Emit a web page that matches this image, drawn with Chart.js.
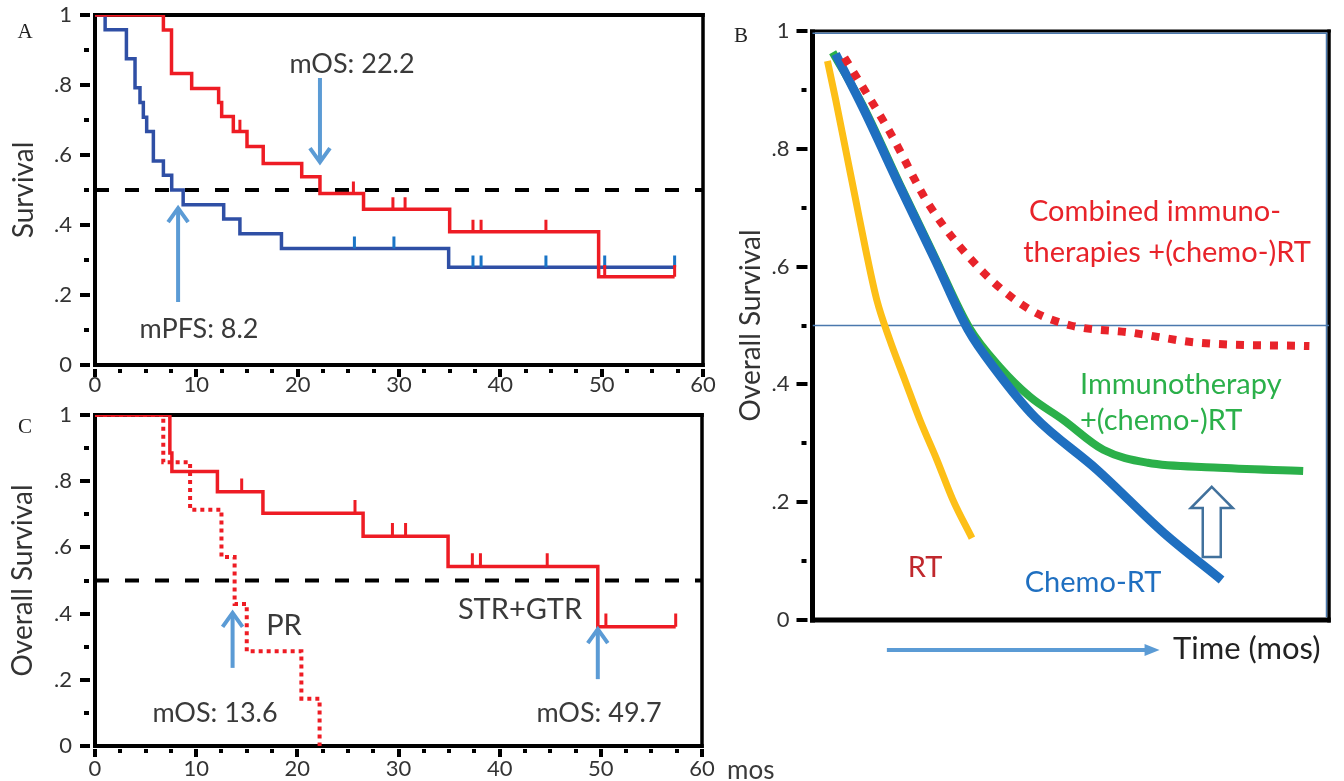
<!DOCTYPE html>
<html><head><meta charset="utf-8">
<script src="https://cdn.jsdelivr.net/npm/chart.js@4.4.0/dist/chart.umd.min.js"></script>
<style>
body{margin:0;background:#fff;width:1344px;height:781px;overflow:hidden;position:relative;font-family:Lato,sans-serif}
canvas{position:absolute}
.t{position:absolute;white-space:nowrap;line-height:1;color:#3a3a3a;font-family:Lato,sans-serif;font-size:27px}
.c{transform:translate(-50%,-50%)}
.l{transform:translate(0,-50%)}
.p{font-family:"Liberation Serif",serif;font-size:21px;color:#222}
</style></head><body>
<canvas id="cA" width="720" height="400" style="left:0;top:0"></canvas>
<canvas id="cC" width="720" height="381" style="left:0;top:400px"></canvas>
<canvas id="cB" width="614" height="781" style="left:730px;top:0"></canvas>

<div class="t p c" style="left:25px;top:31px">A</div>
<div class="t p c" style="left:25px;top:426px">C</div>
<div class="t p c" style="left:741px;top:35px">B</div>

<div class="t c" style="left:352px;top:62px">mOS: 22.2</div>
<div class="t c" style="left:199px;top:327px">mPFS: 8.2</div>

<div class="t c" style="left:284px;top:623px;font-size:29px">PR</div>
<div class="t c" style="left:215px;top:711px">mOS: 13.6</div>
<div class="t c" style="left:520px;top:607px;font-size:29px">STR+GTR</div>
<div class="t c" style="left:599px;top:711px">mOS: 49.7</div>
<div class="t l" style="left:727px;top:769px;font-size:26px">mos</div>

<div class="t c" style="left:1155px;top:209px;font-size:29px;color:#e8232a">Combined immuno-</div>
<div class="t c" style="left:1167px;top:250px;font-size:29px;color:#e8232a">therapies +(chemo-)RT</div>
<div class="t l" style="left:1080px;top:382px;font-size:29px;color:#2bb04a">Immunotherapy</div>
<div class="t l" style="left:1080px;top:418px;font-size:29px;color:#2bb04a">+(chemo-)RT</div>
<div class="t c" style="left:925px;top:565px;font-size:29px;color:#c0282d">RT</div>
<div class="t c" style="left:1093px;top:580px;font-size:29px;color:#1f6fc0">Chemo-RT</div>
<div class="t l" style="left:1173px;top:647px;font-size:31px;color:#222">Time (mos)</div>

<script>
// ---------- Panel A: Kaplan-Meier (OS red, PFS blue) ----------
const osTimeA  = [0, 6.75, 7.55, 9.54, 12.2, 12.5, 13.65, 15.0, 16.6, 20.4, 22.2, 26.5, 35.0, 49.7, 57.2];
const osSurvA  = [1, 0.957, 0.833, 0.79, 0.75, 0.71, 0.667, 0.624, 0.576, 0.538, 0.49, 0.445, 0.381, 0.252, 0.252];
const pfsTimeA = [0, 1.0, 3.1, 3.95, 4.44, 4.77, 5.1, 5.76, 6.75, 7.57, 8.7, 12.7, 14.3, 18.4, 34.9, 57.2];
const pfsSurvA = [1, 0.958, 0.875, 0.792, 0.75, 0.708, 0.667, 0.583, 0.542, 0.5, 0.458, 0.417, 0.375, 0.333, 0.279, 0.279];
const osCensorTimeA  = [14.3, 25.5, 29.4, 30.6, 37.3, 38.1, 44.5, 50.3, 57.2];
const osCensorSurvA  = [0.667, 0.49, 0.445, 0.445, 0.381, 0.381, 0.381, 0.252, 0.252];
const pfsCensorTimeA = [25.6, 29.5, 37.3, 38.1, 44.5, 50.3, 57.2];
const pfsCensorSurvA = [0.333, 0.333, 0.279, 0.279, 0.279, 0.279, 0.279];

// ---------- Panel C: OS by resection (STR+GTR solid, PR dotted) ----------
const strTimeC = [0, 7.4, 7.6, 12.1, 16.6, 26.5, 34.9, 49.7, 57.4];
const strSurvC = [1, 0.885, 0.829, 0.768, 0.703, 0.634, 0.542, 0.36, 0.36];
const strCensorTimeC = [14.5, 25.7, 29.4, 30.7, 37.3, 38.1, 44.7, 50.5, 57.4];
const strCensorSurvC = [0.768, 0.703, 0.634, 0.634, 0.542, 0.542, 0.542, 0.36, 0.36];
const prTimeC = [0, 6.75, 9.4, 12.5, 13.8, 15.0, 20.4, 22.2];
const prSurvC = [1, 0.857, 0.714, 0.571, 0.429, 0.286, 0.143, 0];

// ---------- Panel B: schematic overall survival curves ----------
const rtX    = [2.9, 4.47, 6.41, 8.35, 10.29, 12.43, 14.95, 17.86, 20.78, 24.08, 27.18, 30.87];
const rtY    = [0.949, 0.884, 0.799, 0.714, 0.629, 0.544, 0.476, 0.408, 0.340, 0.272, 0.204, 0.139];
const chemoX = [4.47, 9.9, 16.9, 23.7, 30.1, 35.7, 43.1, 55.1, 68.0, 79.2];
const chemoY = [0.961, 0.867, 0.736, 0.612, 0.493, 0.422, 0.344, 0.255, 0.148, 0.068];
const immunoX = [3.9, 9.9, 16.9, 23.7, 30.3, 36.3, 42.1, 48.5, 56.3, 64.9, 77.7, 95.0];
const immunoY = [0.964, 0.871, 0.740, 0.616, 0.497, 0.429, 0.379, 0.340, 0.289, 0.267, 0.259, 0.253];
const comboX = [6.2, 15.0, 22.7, 33.1, 42.1, 50.0, 61.6, 74.5, 96.2];
const comboY = [0.955, 0.828, 0.703, 0.59, 0.527, 0.50, 0.488, 0.471, 0.465];

// ---------- tick labels ----------
const survTickLabels = ['0', '.2', '.4', '.6', '.8', '1'];
const monthTickLabels = ['0', '10', '20', '30', '40', '50', '60'];
const medianLevel = 0.5;

const pts = (xs, ys) => xs.map((x, i) => ({x: x, y: ys[i]}));

function kmSet(times, surv, color, width, dash) {
  return {data: pts(times, surv), borderColor: color, borderWidth: width, stepped: true,
          pointRadius: 0, fill: false, borderDash: dash || [], borderCapStyle: 'butt', borderJoinStyle: 'miter'};
}
function censorSet(times, surv, h, color) {
  const d = [];
  times.forEach((t, i) => { d.push({x: t, y: surv[i]}, {x: t, y: surv[i] + h}, {x: t, y: null}); });
  return {data: d, borderColor: color, borderWidth: 3, pointRadius: 0, spanGaps: false, fill: false};
}
function hLine(x0, x1, y, color, width, dash) {
  return {data: [{x: x0, y: y}, {x: x1, y: y}], borderColor: color, borderWidth: width,
          borderDash: dash || [], pointRadius: 0, fill: false};
}
function smoothSet(xs, ys, color, width, dash) {
  return {data: pts(xs, ys), borderColor: color, borderWidth: width, pointRadius: 0, fill: false,
          cubicInterpolationMode: 'monotone', borderDash: dash || [], borderCapStyle: 'butt'};
}

const decoPlugin = {
  id: 'deco',
  beforeDatasetsDraw(chart, args, o) {
    const ctx = chart.ctx, a = chart.chartArea, f = o.frame;
    ctx.save();
    ctx.fillStyle = '#000';
    ctx.fillRect(a.left - f.l / 2, a.top - f.t / 2, f.l, a.bottom - a.top + f.t / 2 + f.b / 2);
    ctx.fillRect(a.left - f.l / 2, a.bottom - f.b / 2, a.right - a.left + f.l / 2 + f.r / 2, f.b);
    ctx.fillRect(a.left - f.l / 2, a.top - f.t / 2, a.right - a.left + f.l / 2 + f.r / 2, f.t);
    ctx.fillRect(a.right - f.r / 2, a.top - f.t / 2, f.r, a.bottom - a.top + f.t / 2 + f.b / 2);
    if (o.innerBlue) {
      ctx.fillStyle = '#4a78ad';
      ctx.fillRect(a.left, a.top + f.t / 2, a.right - a.left - f.r / 2, 1.5);
      ctx.fillRect(a.right - f.r / 2 - 1.5, a.top + f.t / 2, 1.5, a.bottom - a.top - f.t / 2 - f.b / 2);
    }
    ctx.restore();
  },
  afterDatasetsDraw(chart, args, o) {
    const ctx = chart.ctx, a = chart.chartArea, xs = chart.scales.x, ys = chart.scales.y;
    ctx.save();
    ctx.fillStyle = '#000';
    ys.ticks.forEach(t => {
      const py = Math.round(ys.getPixelForValue(t.value));
      const major = Math.round(t.value * 10) % 2 === 0;
      const r = major ? o.yMajor : o.yMinor;
      ctx.fillRect(a.left - r[0], py - 2, r[0] - r[1], 4);
    });
    if (o.xMajor) xs.ticks.forEach(t => {
      const px = Math.round(xs.getPixelForValue(t.value));
      const major = Math.round(t.value * 10) % 100 === 0;
      const r = major ? o.xMajor : o.xMinor;
      ctx.fillRect(px - 2, a.bottom + r[0], 4, r[1] - r[0]);
    });
    (o.arrows || []).forEach(ar => {
      const x = xs.getPixelForValue(ar.x), y0 = ys.getPixelForValue(ar.from), y1 = ys.getPixelForValue(ar.to);
      const dir = Math.sign(y1 - y0);
      ctx.strokeStyle = '#5b9bd5'; ctx.lineWidth = 4; ctx.lineCap = 'butt'; ctx.lineJoin = 'miter';
      ctx.beginPath(); ctx.moveTo(x, y0); ctx.lineTo(x, y1 - dir * 2); ctx.stroke();
      ctx.beginPath(); ctx.moveTo(x - 10, y1 - dir * 15); ctx.lineTo(x, y1 - dir * 1); ctx.lineTo(x + 10, y1 - dir * 15); ctx.stroke();
    });
    if (o.hollow) {
      const h = o.hollow;
      const x = xs.getPixelForValue(h.x), yt = ys.getPixelForValue(h.tip), yb = ys.getPixelForValue(h.base), ys0 = ys.getPixelForValue(h.bottom);
      ctx.beginPath();
      ctx.moveTo(x, yt); ctx.lineTo(x + 21, yb); ctx.lineTo(x + 9, yb); ctx.lineTo(x + 9, ys0);
      ctx.lineTo(x - 9, ys0); ctx.lineTo(x - 9, yb); ctx.lineTo(x - 21, yb); ctx.closePath();
      ctx.fillStyle = '#fff'; ctx.fill();
      ctx.strokeStyle = '#41719c'; ctx.lineWidth = 2.5; ctx.stroke();
    }
    if (o.timeArrow) {
      const t = o.timeArrow;
      const x0 = xs.getPixelForValue(t.from), x1 = xs.getPixelForValue(t.to), y = a.bottom + t.dy;
      ctx.strokeStyle = '#5b9bd5'; ctx.fillStyle = '#5b9bd5'; ctx.lineWidth = 4;
      ctx.beginPath(); ctx.moveTo(x0, y); ctx.lineTo(x1 - 12, y); ctx.stroke();
      ctx.beginPath(); ctx.moveTo(x1, y); ctx.lineTo(x1 - 15, y - 6); ctx.lineTo(x1 - 15, y + 6); ctx.closePath(); ctx.fill();
    }
    ctx.restore();
  }
};

const tickFont = {family: 'Lato', size: 22};
const titleFont = {family: 'Lato', size: 28};
const survCallback = v => { const k = Math.round(v * 10); return k % 2 === 0 ? survTickLabels[k / 2] : ''; };
const monthCallback = v => { const k = Math.round(v * 10); return k % 100 === 0 ? monthTickLabels[k / 100] : ''; };
const fixY = w => s => { s.width = w; s.paddingTop = 0; s.paddingBottom = 0; };
const fixX = h => s => { s.height = h; s.paddingLeft = 0; s.paddingRight = 0; };

function kmOptions(o) {
  return {
    responsive: false, animation: false, devicePixelRatio: 1,
    layout: {padding: o.padding},
    plugins: {legend: {display: false}, tooltip: {enabled: false}, deco: o.deco},
    scales: {
      x: {type: 'linear', min: 0, max: 60, afterFit: fixX(o.xH),
          grid: {display: false, drawTicks: false}, border: {display: false},
          ticks: {stepSize: 2.5, autoSkip: false, maxRotation: 0, minRotation: 0, padding: o.xPad,
                  color: '#333', font: tickFont, callback: monthCallback}},
      y: {type: 'linear', min: 0, max: 1, afterFit: fixY(o.yW),
          grid: {display: false, drawTicks: false}, border: {display: false},
          ticks: {stepSize: 0.1, autoSkip: false, padding: 23, color: '#333', font: tickFont, callback: survCallback},
          title: {display: true, text: o.title, color: '#333', font: titleFont, padding: {top: o.titlePad, bottom: 0}}}
    }
  };
}

function fitArea(chart, want) {
  for (let i = 0; i < 4; i++) {
    const a = chart.chartArea, p = chart.options.layout.padding;
    const dt = want.top - a.top, db = a.bottom - want.bottom, dl = want.left - a.left, dr = a.right - want.right;
    if (Math.abs(dt) < 0.5 && Math.abs(db) < 0.5 && Math.abs(dl) < 0.5 && Math.abs(dr) < 0.5) break;
    p.top += dt; p.bottom += db; p.left += dl; p.right += dr;
    chart.update('none');
  }
}

function draw() {
  const chA = new Chart(document.getElementById('cA'), {
    type: 'line',
    data: {datasets: [
      censorSet(osCensorTimeA, osCensorSurvA, 0.034, '#ee1c24'),
      kmSet(osTimeA, osSurvA, '#ee1c24', 3.5),
      censorSet(pfsCensorTimeA, pfsCensorSurvA, 0.034, '#1a74c6'),
      kmSet(pfsTimeA, pfsSurvA, '#2f4fa5', 3.5),
      hLine(0, 60, medianLevel, '#000', 4, [14, 16])
    ]},
    options: kmOptions({padding: {top: 15, right: 17, left: 0, bottom: 0}, xH: 35, yW: 95, xPad: 7,
      title: 'Survival', titlePad: 7,
      deco: {yMajor: [15, 5], yMinor: [11, 6], xMajor: [4, 12], xMinor: [4, 8],
             frame: {l: 4, b: 4, t: 4, r: 3.5},
             arrows: [{x: 22.2, from: 0.82, to: 0.577}, {x: 8.2, from: 0.18, to: 0.451}]}}),
    plugins: [decoPlugin]
  });
  fitArea(chA, {left: 95, top: 15, right: 703, bottom: 365});

  const chC = new Chart(document.getElementById('cC'), {
    type: 'line',
    data: {datasets: [
      censorSet(strCensorTimeC, strCensorSurvC, 0.04, '#ee1c24'),
      kmSet(strTimeC, strSurvC, '#ee1c24', 3.5),
      kmSet(prTimeC, prSurvC, '#ee1c24', 4, [4, 4]),
      hLine(0, 60, medianLevel, '#000', 4, [14, 16])
    ]},
    options: kmOptions({padding: {top: 15, right: 18, left: 0, bottom: 0}, xH: 35, yW: 95, xPad: 10,
      title: 'Overall Survival', titlePad: 6,
      deco: {yMajor: [15, 5], yMinor: [11, 6], xMajor: [3, 11], xMinor: [3, 7],
             frame: {l: 4, b: 4, t: 4, r: 3.5},
             arrows: [{x: 13.6, from: 0.236, to: 0.405}, {x: 49.7, from: 0.202, to: 0.356}]}}),
    plugins: [decoPlugin]
  });
  fitArea(chC, {left: 95, top: 15, right: 702, bottom: 346});

  const chB = new Chart(document.getElementById('cB'), {
    type: 'line',
    data: {datasets: [
      smoothSet(comboX, comboY, '#e8232a', 8, [8, 9]),
      smoothSet(chemoX, chemoY, '#1f6fc0', 9),
      smoothSet(immunoX, immunoY, '#2bb04a', 8),
      smoothSet(rtX, rtY, '#fdbf17', 7),
      hLine(0, 100, medianLevel, '#4a78ad', 1.5)
    ]},
    options: {
      responsive: false, animation: false, devicePixelRatio: 1,
      layout: {padding: {top: 31, right: 15, left: 0, bottom: 161}},
      plugins: {legend: {display: false}, tooltip: {enabled: false},
        deco: {yMajor: [16, 5], yMinor: [11, 6], frame: {l: 5, b: 5, t: 3, r: 3.5}, innerBlue: true,
               hollow: {x: 77.3, tip: 0.226, base: 0.19, bottom: 0.107},
               timeArrow: {from: 14.4, to: 67.2, dy: 30}}},
      scales: {
        x: {type: 'linear', min: 0, max: 100, display: false},
        y: {type: 'linear', min: 0, max: 1, afterFit: fixY(82.5),
            grid: {display: false, drawTicks: false}, border: {display: false},
            ticks: {stepSize: 0.1, autoSkip: false, padding: 23, color: '#333', font: tickFont, callback: survCallback},
            title: {display: true, text: 'Overall Survival', color: '#333', font: titleFont, padding: {top: 4, bottom: 0}}}
      }
    },
    plugins: [decoPlugin]
  });
  fitArea(chB, {left: 82.5, top: 31, right: 599, bottom: 620});
}

Promise.all([document.fonts.load('22px Lato'), document.fonts.load('28px Lato')]).then(draw, draw);
</script>
</body></html>
